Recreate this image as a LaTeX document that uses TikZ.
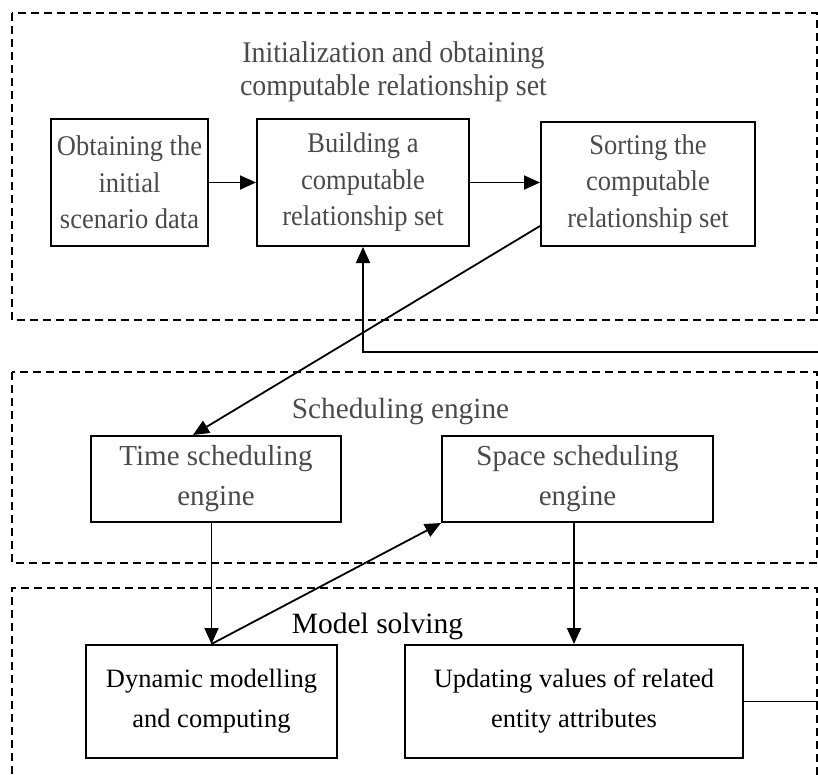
\documentclass[tikz,border=0pt]{standalone}
\usepackage{fontspec}
\setmainfont{Liberation Serif}
\newfontfamily\narrowserif[FakeStretch=0.93]{Liberation Serif}
\usetikzlibrary{arrows.meta,calc}
\definecolor{txtgray}{HTML}{4a4a4a}
\tikzset{
  stage/.style={draw, line width=1.8pt, dash pattern=on 8pt off 5pt},
  blk/.style={draw, line width=2pt, inner sep=0pt, align=center},
  topblk/.style={blk, text=txtgray, font=\narrowserif\fontsize{28.5}{36.5}\selectfont},
  midblk/.style={blk, text=txtgray, font=\fontsize{29}{40}\selectfont},
  lowblk/.style={blk, text=black, font=\fontsize{26.5}{40}\selectfont},
  conn/.style={line width=1.8pt},
  arr/.style={conn, -{Triangle[length=16pt,width=14pt]}},
}
\begin{document}
\begin{tikzpicture}[x=1pt,y=-1pt]
\useasboundingbox (0,0) rectangle (818,774);

% stage frames
\draw[stage] (12,13) rectangle (817,320);
\draw[stage] (12,372) rectangle (817,563);
\draw[stage] (12,800) -- (12,588) -- (817,588) -- (817,800);

% stage titles
\node[text=txtgray, align=center, font=\narrowserif\fontsize{30}{33}\selectfont] (t1) at (393.5,72)
  {Initialization and obtaining\\computable relationship set};
\node[text=txtgray, anchor=base, font=\fontsize{29.3}{35}\selectfont] (t2) at (400.5,418) {Scheduling engine};
\node[text=black, anchor=base, font=\fontsize{29.5}{35}\selectfont] (t3) at (377.5,633) {Model solving};

% initialization stage
\node[topblk, minimum width=157pt, minimum height=127pt] (A) at (129.5,182.5)
  {Obtaining the\\initial\\scenario data};
\node[topblk, minimum width=212pt, minimum height=127pt] (B) at (363,182.5)
  {Building a\\computable\\relationship set};
\node[topblk, minimum width=214pt, minimum height=124pt] (C) at (648,184)
  {Sorting the\\computable\\relationship set};

% scheduling stage
\node[midblk, minimum width=250pt, minimum height=86pt] (T) at (216,479)
  {Time scheduling\\engine};
\node[midblk, minimum width=271pt, minimum height=86pt] (S) at (577.5,479)
  {Space scheduling\\engine};

% model solving stage
\node[lowblk, minimum width=251pt, minimum height=113pt] (D) at (211.5,701.5)
  {Dynamic modelling\\and computing};
\node[lowblk, minimum width=338pt, minimum height=113pt] (U) at (574,701.5)
  {Updating values of related\\entity attributes};

% connectors
\coordinate (cOut) at ($(C.south west)+(0,-21)$);
\coordinate (tIn) at ($(T.north)+(-23,0)$);
\coordinate (fbR) at (818.5,701.5);
\coordinate (fbT) at (818.5,352);

\draw[arr] (A.east) -- (B.west);
\draw[arr] (B.east) -- (B.east -| C.west);
\draw[arr] (cOut) -- (tIn);
\draw[arr] (D.north |- T.south) -- (D.north);
\draw[arr] (D.north) -- (S.south west);
\draw[arr] (U.north |- S.south) -- (U.north);
\draw[arr] (U.east) -- (fbR) -- (fbT) -| (B.south);
\end{tikzpicture}
\end{document}
